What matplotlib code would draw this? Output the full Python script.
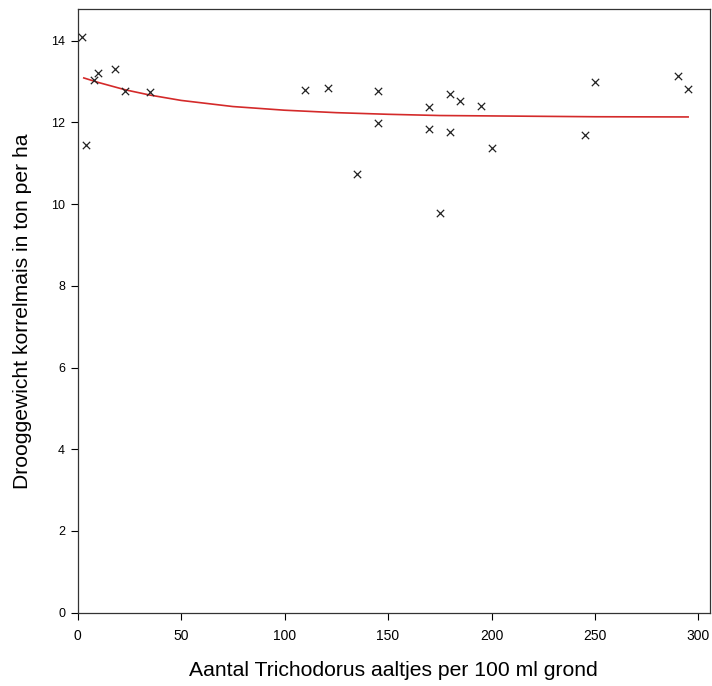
import matplotlib
matplotlib.use("Agg")
import matplotlib.pyplot as plt

plt.rcParams['font.family'] = ['Liberation Sans', 'DejaVu Sans']

# observed points: nematode density vs grain dry weight
aaltjes = [2, 4, 8, 10, 18, 23, 35, 110, 121, 135, 145, 145, 170, 170, 175,
           180, 180, 185, 195, 200, 245, 250, 290, 295]
opbrengst = [14.09, 11.44, 13.04, 13.22, 13.31, 12.77, 12.74, 12.79, 12.85,
             10.75, 12.77, 11.98, 12.37, 11.84, 9.79, 12.69, 11.77, 12.53,
             12.41, 11.38, 11.69, 12.99, 13.13, 12.81]

# fitted curve
curve_x = [3, 10, 23, 35, 50, 75, 100, 125, 150, 175, 200, 250, 295]
curve_y = [13.09, 12.98, 12.80, 12.67, 12.54, 12.39, 12.30, 12.24, 12.20,
           12.17, 12.16, 12.14, 12.135]

xticks = [0, 50, 100, 150, 200, 250, 300]
yticks = [0, 2, 4, 6, 8, 10, 12, 14]

fig = plt.figure(figsize=(7.12, 6.86), dpi=100)
ax = fig.add_axes([0.109, 0.107, 0.888, 0.880])

ax.plot(curve_x, curve_y, color='#d42a2a', lw=1.2, zorder=2)
ax.scatter(aaltjes, opbrengst, marker='x', color='#222222', s=28, lw=0.9, zorder=3)

ax.set_xlim(0, 305.5)
ax.set_ylim(0, 14.78)
ax.set_xticks(xticks)
ax.set_yticks(yticks)
ax.tick_params(direction='out', length=5, width=0.8, labelsize=9, pad=4)
ax.tick_params(axis='x', labelsize=10, pad=7)
for s in ax.spines.values():
    s.set_linewidth(0.9)
    s.set_color('#333333')

ax.set_xlabel('Aantal Trichodorus aaltjes per 100 ml grond', fontsize=15.2, labelpad=13)
ax.set_ylabel('Drooggewicht korrelmais in ton per ha', fontsize=15.2, labelpad=14)

fig.savefig('out.png', dpi=100)
